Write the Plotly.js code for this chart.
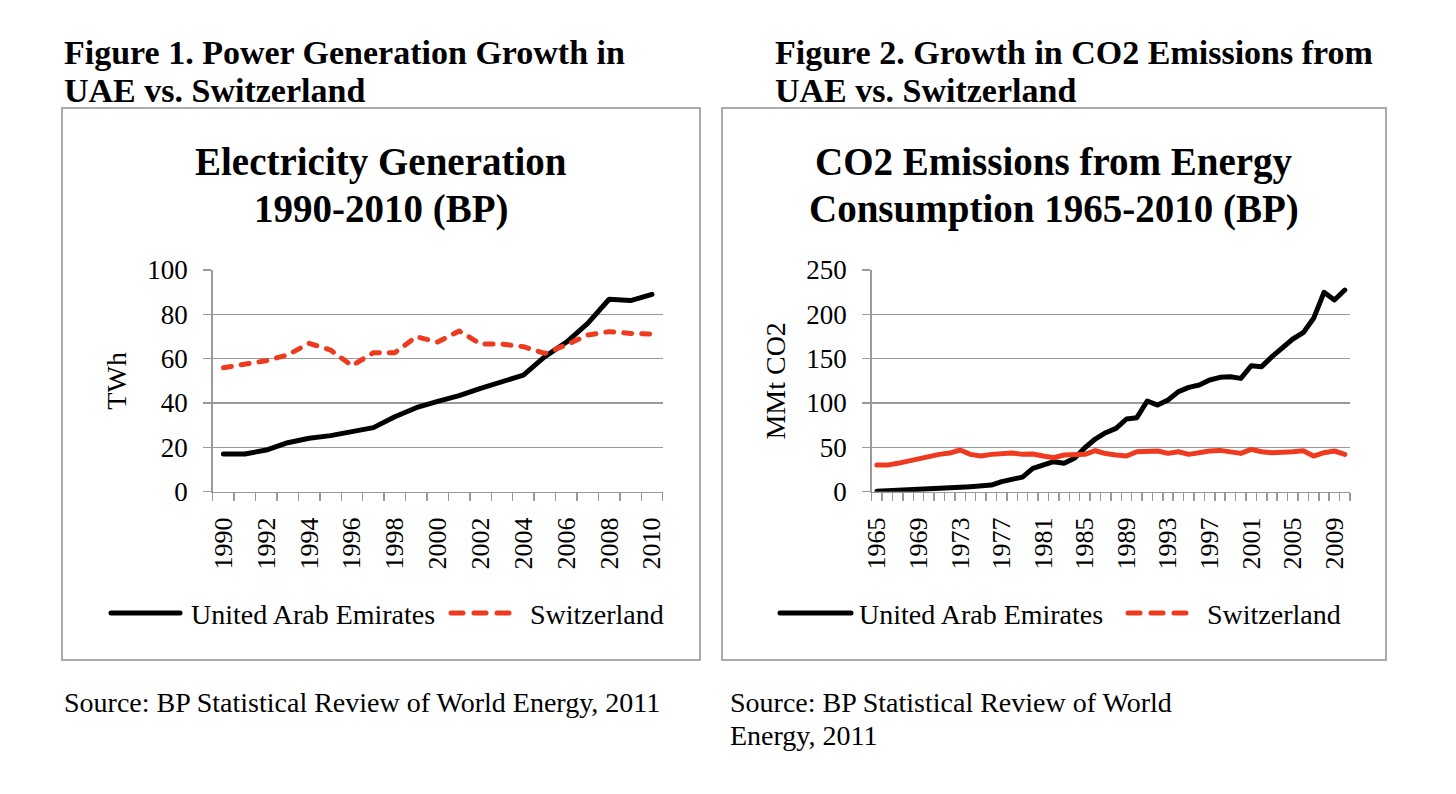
<!DOCTYPE html>
<html><head><meta charset="utf-8">
<script src="https://cdn.plot.ly/plotly-3.0.1.min.js"></script>
<style>
html,body{margin:0;padding:0;background:#fff;}
#chart{width:1456px;height:794px;}
.scatterlayer .js-line{stroke-linecap:round;stroke-linejoin:round;}
.shapelayer path{stroke-linecap:round;}
</style>
</head><body><div id="chart"></div>
<script>
// ---- Figure 1: Electricity generation (TWh), BP 1990-2010
const years1 = [1990,1991,1992,1993,1994,1995,1996,1997,1998,1999,2000,2001,2002,2003,2004,2005,2006,2007,2008,2009,2010];
const uaeGen = [17.0,17.0,18.8,22.1,24.1,25.3,27.1,28.9,33.8,37.9,40.7,43.3,46.6,49.6,52.6,60.9,67.4,75.9,86.8,86.2,89.0];
const swissGen = [55.9,57.6,59.1,61.7,66.9,63.9,56.8,62.7,62.7,69.9,67.5,72.5,66.6,66.6,65.4,62.4,66.2,70.7,72.2,71.4,71.1];

// ---- Figure 2: CO2 emissions from energy consumption (MMt CO2), BP 1965-2010
const years2 = [1965,1966,1967,1968,1969,1970,1971,1972,1973,1974,1975,1976,1977,1978,1979,1980,1981,1982,1983,1984,1985,1986,1987,1988,1989,1990,1991,1992,1993,1994,1995,1996,1997,1998,1999,2000,2001,2002,2003,2004,2005,2006,2007,2008,2009,2010];
const uaeCO2 = [0.4,0.8,1.5,1.5,1.9,2.6,3.8,4.1,4.9,5.6,6.4,7.5,11.3,13.9,16.5,26.3,30.8,33.8,32.0,37.6,49.6,59.4,66.5,71.4,82.0,83.5,102.3,97.7,103.4,112.8,117.7,120.3,126.0,129.0,129.7,127.8,142.0,141.0,152.3,162.4,172.2,179.3,195.5,224.8,216.2,227.4];
const swissCO2 = [30,30,32,34.6,38.3,40.6,42.1,43.6,47,42.1,40.2,42.1,42.9,43.6,42.1,42.5,40.2,38.3,41.4,41.4,42.1,46.2,43.0,41.4,40.2,45.1,46.2,45.9,43.2,45.1,42.1,44.4,45.9,46.6,45.1,43.2,47.7,45.1,44,44,45.1,46.2,40.2,44,45.9,42.1];

// ---- Texts
const heading1 = ['Figure 1. Power Generation Growth in', 'UAE vs. Switzerland'];
const heading2 = ['Figure 2. Growth in CO2 Emissions from', 'UAE vs. Switzerland'];
const chartTitle1 = ['Electricity Generation', '1990-2010 (BP)'];
const chartTitle2 = ['CO2 Emissions from Energy', 'Consumption 1965-2010 (BP)'];
const yTitle1 = 'TWh';
const yTitle2 = 'MMt CO2';
const seriesNames = ['United Arab Emirates', 'Switzerland'];
const source1 = ['Source: BP Statistical Review of World Energy, 2011'];
const source2 = ['Source: BP Statistical Review of World', 'Energy, 2011'];

const W = 1456, H = 794;
const px = x => x / W, py = y => 1 - y / H;
const SERIF = '"Liberation Serif", "Times New Roman", Times, serif';
const GRID = '#9a9a9a';
const BOX = '#ababab';
const RED = '#ee3a1f';
const BLACK = '#000000';

const traces = [
  {x: years1, y: uaeGen, name: seriesNames[0], type: 'scatter', mode: 'lines', xaxis: 'x', yaxis: 'y',
   line: {color: BLACK, width: 5}},
  {x: years1, y: swissGen, name: seriesNames[1], type: 'scatter', mode: 'lines', xaxis: 'x', yaxis: 'y',
   line: {color: RED, width: 5, dash: '8px,10px'}},
  {x: years2, y: uaeCO2, name: seriesNames[0], type: 'scatter', mode: 'lines', xaxis: 'x2', yaxis: 'y2',
   line: {color: BLACK, width: 5}},
  {x: years2, y: swissCO2, name: seriesNames[1], type: 'scatter', mode: 'lines', xaxis: 'x2', yaxis: 'y2',
   line: {color: RED, width: 5}}
];

function xAxis(domain, first, last, dtick) {
  return {
    domain: domain, range: [first - 0.5, last + 0.5], tick0: first, dtick: dtick,
    tickangle: -90, ticks: '', showgrid: false, zeroline: false,
    showline: true, linecolor: GRID, linewidth: 1.5,
    tickfont: {size: 26, family: SERIF, color: '#000'}, ticklabelstandoff: 14,
    minor: {ticks: 'outside', tick0: first - 0.5, dtick: 1, ticklen: 8, tickcolor: GRID, tickwidth: 1.5, showgrid: false},
    fixedrange: true
  };
}
function yAxis(domain, max, dtick, title) {
  return {
    domain: domain, range: [0, max], dtick: dtick, showgrid: true, gridcolor: GRID, gridwidth: 1.5,
    showline: true, linecolor: GRID, linewidth: 1.5, ticks: 'outside', ticklen: 8, tickcolor: GRID, tickwidth: 1.5,
    zeroline: false, tickfont: {size: 27, family: SERIF, color: '#000'}, ticklabelstandoff: 10,
    title: {text: title, standoff: 12, font: {size: 28, family: SERIF, color: '#000'}},
    fixedrange: true
  };
}

const plotTop = 270, plotBottom = 491.7;
const xa = xAxis([px(212.7), px(662.7)], years1[0], years1[years1.length - 1], 2);
xa.anchor = 'y';
const ya = yAxis([py(plotBottom), py(plotTop)], 100, 20, yTitle1);
ya.anchor = 'x';
const xa2 = xAxis([px(871.7), px(1350)], years2[0], years2[years2.length - 1], 4);
xa2.anchor = 'y2';
const ya2 = yAxis([py(plotBottom), py(plotTop)], 250, 50, yTitle2);
ya2.anchor = 'x2';

function ann(text, x, y, size, opts) {
  return Object.assign({text: text, x: px(x), y: py(y), xref: 'paper', yref: 'paper', showarrow: false,
    font: {family: SERIF, size: size, color: '#000'}, xanchor: 'left', yanchor: 'middle'}, opts || {});
}

const annotations = [
  ann('<b>' + heading1[0] + '</b>', 62, 53, 34),
  ann('<b>' + heading1[1] + '</b>', 62, 90, 34),
  ann('<b>' + heading2[0] + '</b>', 773, 53, 34),
  ann('<b>' + heading2[1] + '</b>', 773, 90, 34),
  ann('<b>' + chartTitle1[0] + '</b>', 381, 162, 39, {xanchor: 'center'}),
  ann('<b>' + chartTitle1[1] + '</b>', 381, 209, 39, {xanchor: 'center'}),
  ann('<b>' + chartTitle2[0] + '</b>', 1054, 162, 39, {xanchor: 'center'}),
  ann('<b>' + chartTitle2[1] + '</b>', 1054, 209, 39, {xanchor: 'center'}),
  ann(seriesNames[0], 189, 614, 28),
  ann(seriesNames[1], 528, 614, 28),
  ann(seriesNames[0], 857, 614, 28),
  ann(seriesNames[1], 1205, 614, 28),
  ann(source1[0], 62, 702, 28),
  ann(source2[0], 728, 702, 28),
  ann(source2[1], 728, 735, 28)
];

function hline(x0, x1, y, color, dash) {
  return {type: 'line', xref: 'paper', yref: 'paper', x0: px(x0), x1: px(x1), y0: py(y), y1: py(y),
    line: {color: color, width: 5, dash: dash || 'solid'}};
}
const shapes = [
  {type: 'rect', xref: 'paper', yref: 'paper', x0: px(62), x1: px(700), y0: py(660), y1: py(108),
   line: {color: BOX, width: 2}, layer: 'below'},
  {type: 'rect', xref: 'paper', yref: 'paper', x0: px(722), x1: px(1386), y0: py(660), y1: py(108),
   line: {color: BOX, width: 2}, layer: 'below'},
  hline(111, 180, 613, BLACK),
  hline(451, 513, 613, RED, '12px,11px'),
  hline(780, 851, 613, BLACK),
  hline(1128, 1190, 613, RED, '12px,11px')
];

const layout = {
  width: W, height: H, margin: {l: 0, r: 0, t: 0, b: 0},
  paper_bgcolor: '#ffffff', plot_bgcolor: '#ffffff',
  showlegend: false,
  font: {family: SERIF, color: '#000', size: 27},
  xaxis: xa, yaxis: ya, xaxis2: xa2, yaxis2: ya2,
  annotations: annotations, shapes: shapes
};

Plotly.newPlot('chart', traces, layout, {staticPlot: true, displayModeBar: false});
</script>
</body></html>
